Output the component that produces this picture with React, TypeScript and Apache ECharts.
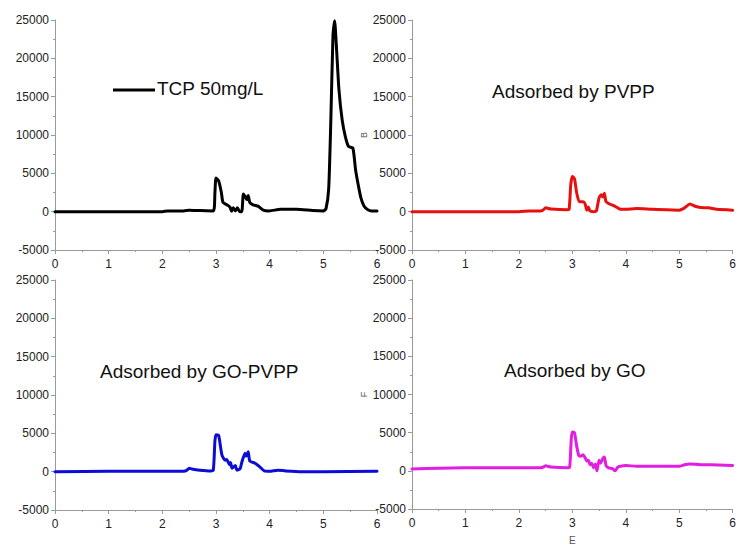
import React, { useEffect, useRef } from "react";
import * as echarts from "echarts";

// Tick labels
const xTicks = [0, 1, 2, 3, 4, 5, 6];
const yTicks = [-5000, 0, 5000, 10000, 15000, 20000, 25000];

// Panel labels
const panelLabels = ["TCP 50mg/L", "Adsorbed by PVPP", "Adsorbed by GO-PVPP", "Adsorbed by GO"];

// Series: [time, intensity]
const tcp: number[][] = [
  [0, 0], [0.5, 0], [1, 0], [1.5, 0], [2, 0], [2.1, 100], [2.4, 100], [2.5, 200], [2.7, 150],
  [2.95, 100], [2.98, 2500], [3.0, 4400], [3.05, 4000], [3.1, 2500], [3.13, 1200], [3.2, 900],
  [3.26, 600], [3.29, 50], [3.32, 500], [3.36, 100], [3.4, 500], [3.44, 0], [3.48, 0],
  [3.51, 2300], [3.54, 2000], [3.57, 1600], [3.6, 2100], [3.63, 1200], [3.69, 900], [3.79, 700],
  [3.88, 200], [3.99, 100], [4.2, 300], [4.5, 300], [4.8, 150], [5.0, 100], [5.05, 400],
  [5.1, 3000], [5.14, 12000], [5.18, 23000], [5.21, 24900], [5.24, 22000], [5.29, 16000],
  [5.35, 12000], [5.41, 9800], [5.47, 8500], [5.55, 8300], [5.6, 5500], [5.65, 3500],
  [5.7, 1800], [5.76, 700], [5.83, 250], [5.9, 100], [6.0, 100],
];

const pvpp: number[][] = [
  [0, 0], [0.5, 0], [1, 0], [1.5, 0], [2, 0], [2.2, 100], [2.4, 100], [2.45, 200], [2.5, 500],
  [2.6, 350], [2.9, 250], [2.94, 300], [2.97, 3500], [3.0, 4600], [3.04, 4300], [3.08, 2500],
  [3.13, 1300], [3.2, 1300], [3.24, 1000], [3.27, 200], [3.3, 600], [3.33, 100], [3.4, 0],
  [3.45, 100], [3.5, 1800], [3.54, 2200], [3.57, 1900], [3.6, 2400], [3.63, 1300], [3.7, 1000],
  [3.8, 700], [3.9, 300], [4.0, 300], [4.2, 400], [4.5, 300], [5.0, 200], [5.1, 500],
  [5.2, 1000], [5.3, 700], [5.4, 550], [5.55, 500], [5.7, 300], [6.0, 200],
];

const goPvpp: number[][] = [
  [0, 0], [1, 50], [2, 50], [2.4, 50], [2.46, 200], [2.5, 450], [2.55, 350], [2.7, 200],
  [2.9, 100], [2.95, 200], [2.98, 4000], [3.0, 4800], [3.05, 4700], [3.11, 2200], [3.17, 1500],
  [3.2, 1600], [3.25, 900], [3.27, 1200], [3.3, 450], [3.36, 800], [3.39, 200], [3.45, 400],
  [3.48, 1200], [3.54, 2400], [3.56, 2000], [3.6, 2600], [3.63, 1400], [3.73, 1100],
  [3.82, 600], [3.9, 100], [4.0, 50], [4.15, 200], [4.3, 100], [4.6, 0], [5.0, 0], [6.0, 50],
];

const go: number[][] = [
  [0, 250], [0.5, 350], [1, 400], [2, 400], [2.4, 400], [2.46, 500], [2.5, 650], [2.6, 500],
  [2.9, 400], [2.95, 500], [2.98, 4200], [3.0, 5100], [3.04, 5000], [3.08, 3300], [3.12, 2000],
  [3.15, 1900], [3.2, 2100], [3.24, 1700], [3.27, 1300], [3.3, 1400], [3.33, 800], [3.36, 1000],
  [3.4, 400], [3.43, 900], [3.46, 0], [3.5, 1400], [3.53, 1000], [3.57, 1600], [3.6, 1800],
  [3.63, 700], [3.68, 400], [3.75, 300], [3.8, 0], [3.85, 500], [3.9, 600], [4.0, 700],
  [4.2, 600], [5.0, 600], [5.1, 800], [5.2, 900], [5.4, 800], [5.6, 800], [6.0, 700],
];

const seriesData = [tcp, pvpp, goPvpp, go];
const seriesColors = ["#000000", "#e8100f", "#0c0cd6", "#e11ee1"];

const FONT = "Liberation Sans, Arial, sans-serif";

export default function App() {
  const ref = useRef<HTMLDivElement>(null);

  useEffect(() => {
    if (!ref.current) return;
    const chart = echarts.init(ref.current, undefined, { renderer: "svg" });

    const grids = [
      { left: 55, top: 20, width: 322, height: 230 },
      { left: 412, top: 20, width: 321, height: 230 },
      { left: 55, top: 280, width: 322, height: 230 },
      { left: 412, top: 280, width: 321, height: 230 },
    ];
    const yNames = ["", "B", "", "F"];
    const xNames = ["", "", "", "E"];

    const axisLine = { show: true, onZero: false, lineStyle: { color: "#9a9a9a", width: 1 } };
    const axisTick = { show: true, length: 4, lineStyle: { color: "#9a9a9a" } };
    const minorTick = { show: true, splitNumber: 2, length: 2, lineStyle: { color: "#9a9a9a" } };
    const axisLabel = { color: "#222", fontSize: 12, fontFamily: FONT };

    const option: any = {
      animation: false,
      backgroundColor: "#ffffff",
      grid: grids.map((g) => ({ ...g, containLabel: false })),
      xAxis: grids.map((_, i) => ({
        type: "value",
        gridIndex: i,
        min: xTicks[0],
        max: xTicks[xTicks.length - 1],
        interval: 1,
        axisLine,
        axisTick,
        minorTick,
        splitLine: { show: false },
        axisLabel: { ...axisLabel, margin: 8, formatter: (v: number) => String(v) },
        name: xNames[i],
        nameLocation: "middle",
        nameGap: 26,
        nameTextStyle: { color: "#555", fontSize: 10, fontFamily: FONT },
      })),
      yAxis: grids.map((_, i) => ({
        type: "value",
        gridIndex: i,
        min: yTicks[0],
        max: yTicks[yTicks.length - 1],
        interval: 5000,
        axisLine,
        axisTick,
        minorTick,
        splitLine: { show: false },
        axisLabel: { ...axisLabel, margin: 6, formatter: (v: number) => String(v) },
        name: yNames[i],
        nameLocation: "middle",
        nameGap: 44,
        nameTextStyle: { color: "#555", fontSize: 9, fontFamily: FONT },
      })),
      series: seriesData.map((d, i) => ({
        type: "line",
        xAxisIndex: i,
        yAxisIndex: i,
        data: d,
        showSymbol: false,
        symbol: "none",
        smooth: 0.2,
        lineStyle: { color: seriesColors[i], width: 3, join: "round", cap: "round" },
        z: 3,
      })),
      graphic: [
        {
          type: "line",
          shape: { x1: 113, y1: 90, x2: 155, y2: 90 },
          style: { stroke: "#000", lineWidth: 3 },
        },
        {
          type: "text",
          left: 157,
          top: 79,
          style: { text: panelLabels[0], fontSize: 19, fontFamily: FONT, fill: "#111" },
        },
        {
          type: "text",
          left: 492,
          top: 82,
          style: { text: panelLabels[1], fontSize: 19, fontFamily: FONT, fill: "#111" },
        },
        {
          type: "text",
          left: 100,
          top: 362,
          style: { text: panelLabels[2], fontSize: 19, fontFamily: FONT, fill: "#111" },
        },
        {
          type: "text",
          left: 504,
          top: 361,
          style: { text: panelLabels[3], fontSize: 19, fontFamily: FONT, fill: "#111" },
        },
      ],
    };

    chart.setOption(option);
    return () => chart.dispose();
  }, []);

  return (
    <div
      ref={ref}
      style={{ position: "fixed", left: 0, top: 0, width: 739, height: 546, background: "#fff" }}
    />
  );
}
